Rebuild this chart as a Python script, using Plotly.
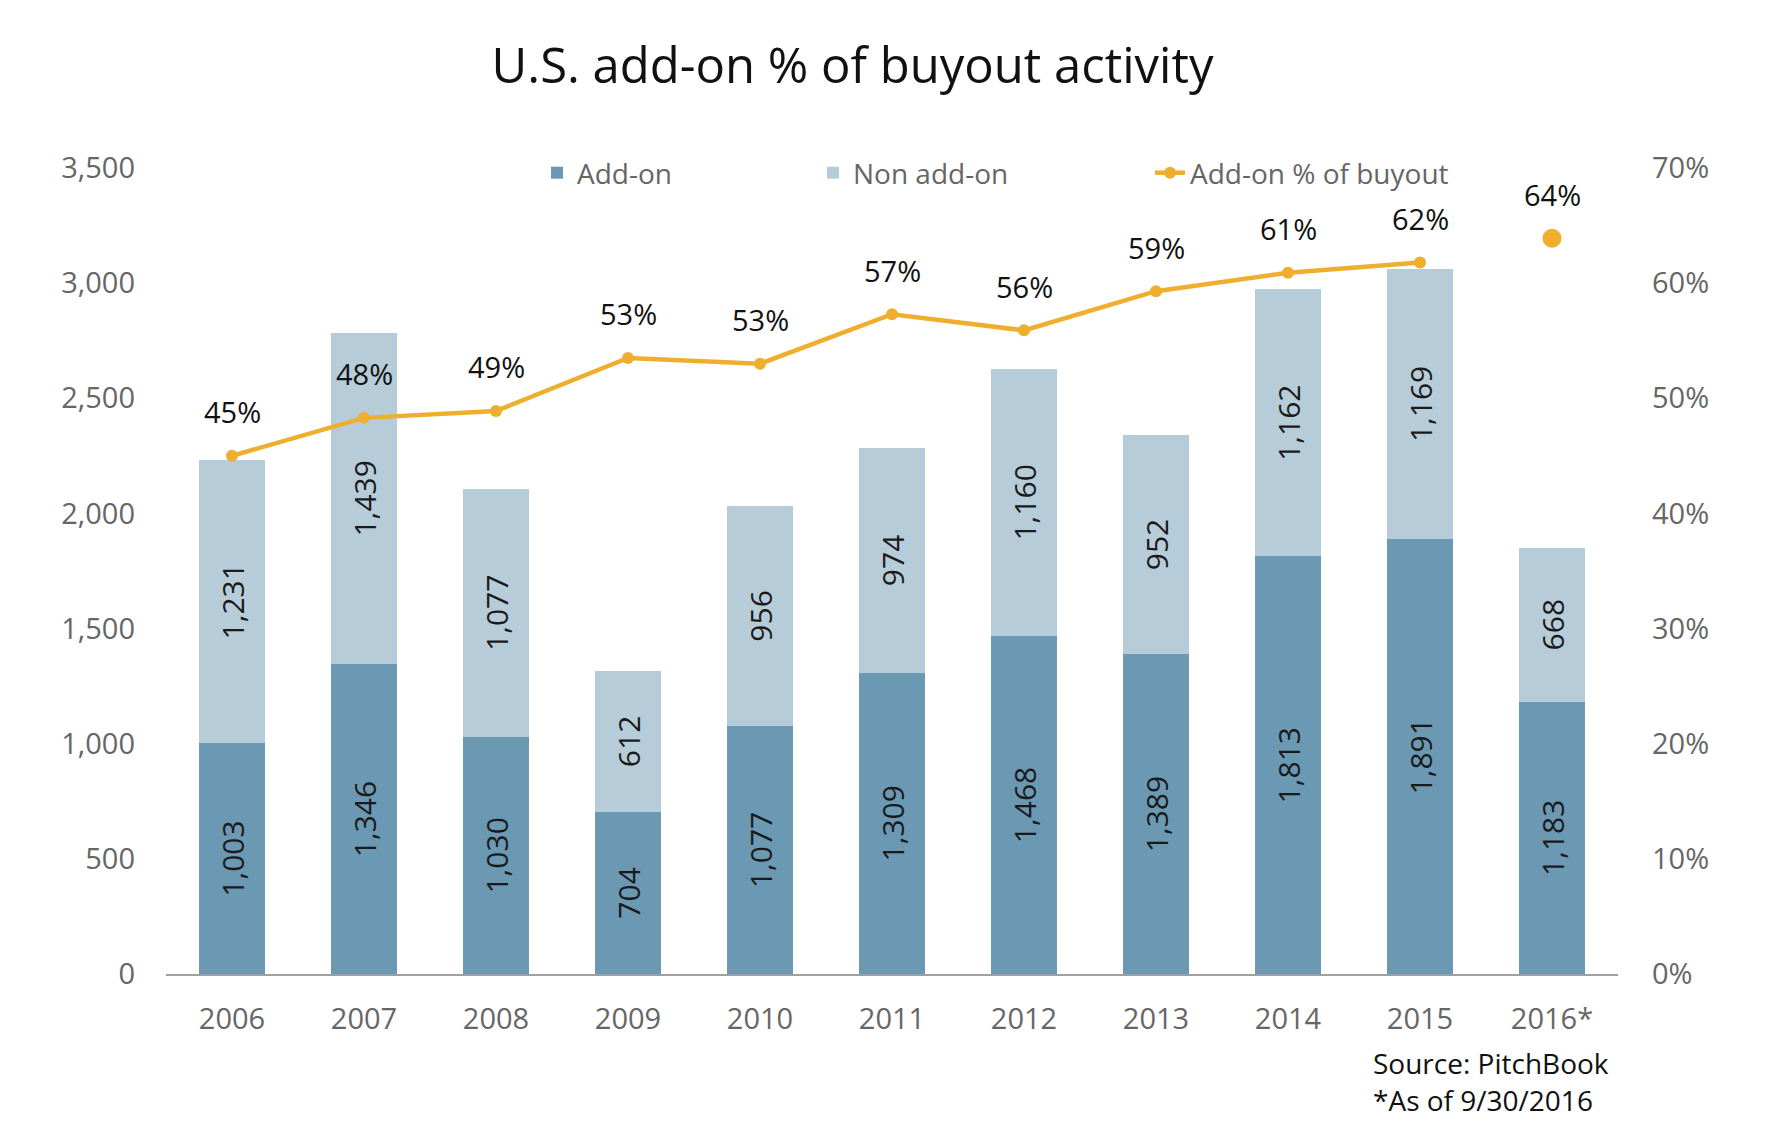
import plotly.graph_objects as go

years = ["2006", "2007", "2008", "2009", "2010", "2011", "2012", "2013", "2014", "2015", "2016*"]
addon = [1003, 1346, 1030, 704, 1077, 1309, 1468, 1389, 1813, 1891, 1183]
non_addon = [1231, 1439, 1077, 612, 956, 974, 1160, 952, 1162, 1169, 668]
pct = [0.450, 0.483, 0.489, 0.535, 0.530, 0.573, 0.559, 0.593, 0.609, 0.618, 0.639]
pct_labels = ["45%", "48%", "49%", "53%", "53%", "57%", "56%", "59%", "61%", "62%", "64%"]
left_ticks = [0, 500, 1000, 1500, 2000, 2500, 3000, 3500]
right_ticks = [0, 0.1, 0.2, 0.3, 0.4, 0.5, 0.6, 0.7]

DARK = "#6b98b2"
LIGHT = "#b7ccd9"
ORANGE = "#f0ae2e"
GRAY = "#666666"
FONT = "Open Sans"

fig = go.Figure()
fig.add_trace(go.Bar(
    x=years, y=addon, name="Add-on", marker=dict(color=DARK, line=dict(width=0)),
    texttemplate="%{y:,}", textposition="inside", insidetextanchor="middle",
    textangle=-90, textfont=dict(family=FONT, size=30, color="#1a1a1a"),
    width=0.5, hoverinfo="skip", legend="legend",
))
fig.add_trace(go.Bar(
    x=years, y=non_addon, name="Non add-on", marker=dict(color=LIGHT, line=dict(width=0)),
    texttemplate="%{y:,}", textposition="inside", insidetextanchor="middle",
    textangle=-90, textfont=dict(family=FONT, size=30, color="#1a1a1a"),
    width=0.5, hoverinfo="skip", legend="legend",
))
fig.add_trace(go.Scatter(
    x=years[:-1], y=pct[:-1], name="Add-on % of buyout", yaxis="y2",
    mode="lines+markers", line=dict(color=ORANGE, width=4.5),
    marker=dict(color=ORANGE, size=12), hoverinfo="skip", legend="legend2",
))
fig.add_trace(go.Scatter(
    x=years[-1:], y=pct[-1:], yaxis="y2", mode="markers", showlegend=False,
    marker=dict(color=ORANGE, size=19), hoverinfo="skip",
))

for i, (yv, lab) in enumerate(zip(pct, pct_labels)):
    fig.add_annotation(
        x=i, xref="x", y=yv, yref="y2", text=lab, showarrow=False, yshift=44,
        font=dict(family=FONT, size=29, color="#111111"),
    )

fig.add_annotation(
    xref="paper", yref="paper", x=0.830, y=-0.110, xanchor="left", yanchor="middle",
    text="Source: PitchBook", showarrow=False, font=dict(family=FONT, size=28, color="#111111"),
)
fig.add_annotation(
    xref="paper", yref="paper", x=0.830, y=-0.156, xanchor="left", yanchor="middle",
    text="*As of 9/30/2016", showarrow=False, font=dict(family=FONT, size=28, color="#111111"),
)

fig.update_layout(
    width=1770, height=1130,
    margin=dict(l=158, r=160, t=160, b=164),
    paper_bgcolor="white", plot_bgcolor="white",
    barmode="stack", bargap=0.5,
    font=dict(family=FONT, size=28, color=GRAY),
    title=dict(
        text="U.S. add-on % of buyout activity", x=0.4728, xref="paper", xanchor="center",
        y=1 - 58 / 1130, yref="container", yanchor="middle",
        font=dict(family=FONT, size=49, color="#111111"),
    ),
    legend=dict(
        orientation="h", x=0.2555, y=0.9938, xanchor="left", yanchor="middle",
        font=dict(family=FONT, size=28, color=GRAY), bgcolor="rgba(0,0,0,0)",
        entrywidth=231, entrywidthmode="pixels", traceorder="normal",
    ),
    legend2=dict(
        orientation="h", x=0.6777, y=0.9938, xanchor="left", yanchor="middle",
        font=dict(family=FONT, size=28, color=GRAY), bgcolor="rgba(0,0,0,0)",
    ),
    xaxis=dict(
        type="category", range=[-0.5, 10.5], showgrid=False, showline=True,
        linecolor="#a0a0a0", linewidth=1.5, ticks="", ticklabelstandoff=18,
        tickfont=dict(family=FONT, size=29, color=GRAY), fixedrange=True,
    ),
    yaxis=dict(
        range=[0, 3500], tickvals=left_ticks, tickformat=",", showgrid=False,
        zeroline=False, showline=False, ticks="", ticklabelstandoff=30,
        tickfont=dict(family=FONT, size=29, color=GRAY), fixedrange=True,
    ),
    yaxis2=dict(
        range=[0, 0.7], tickvals=right_ticks, tickformat=".0%", overlaying="y",
        side="right", showgrid=False, zeroline=False, showline=False, ticks="",
        ticklabelstandoff=33, tickfont=dict(family=FONT, size=29, color=GRAY),
        fixedrange=True,
    ),
    showlegend=True,
)

fig.write_html("out.html")
